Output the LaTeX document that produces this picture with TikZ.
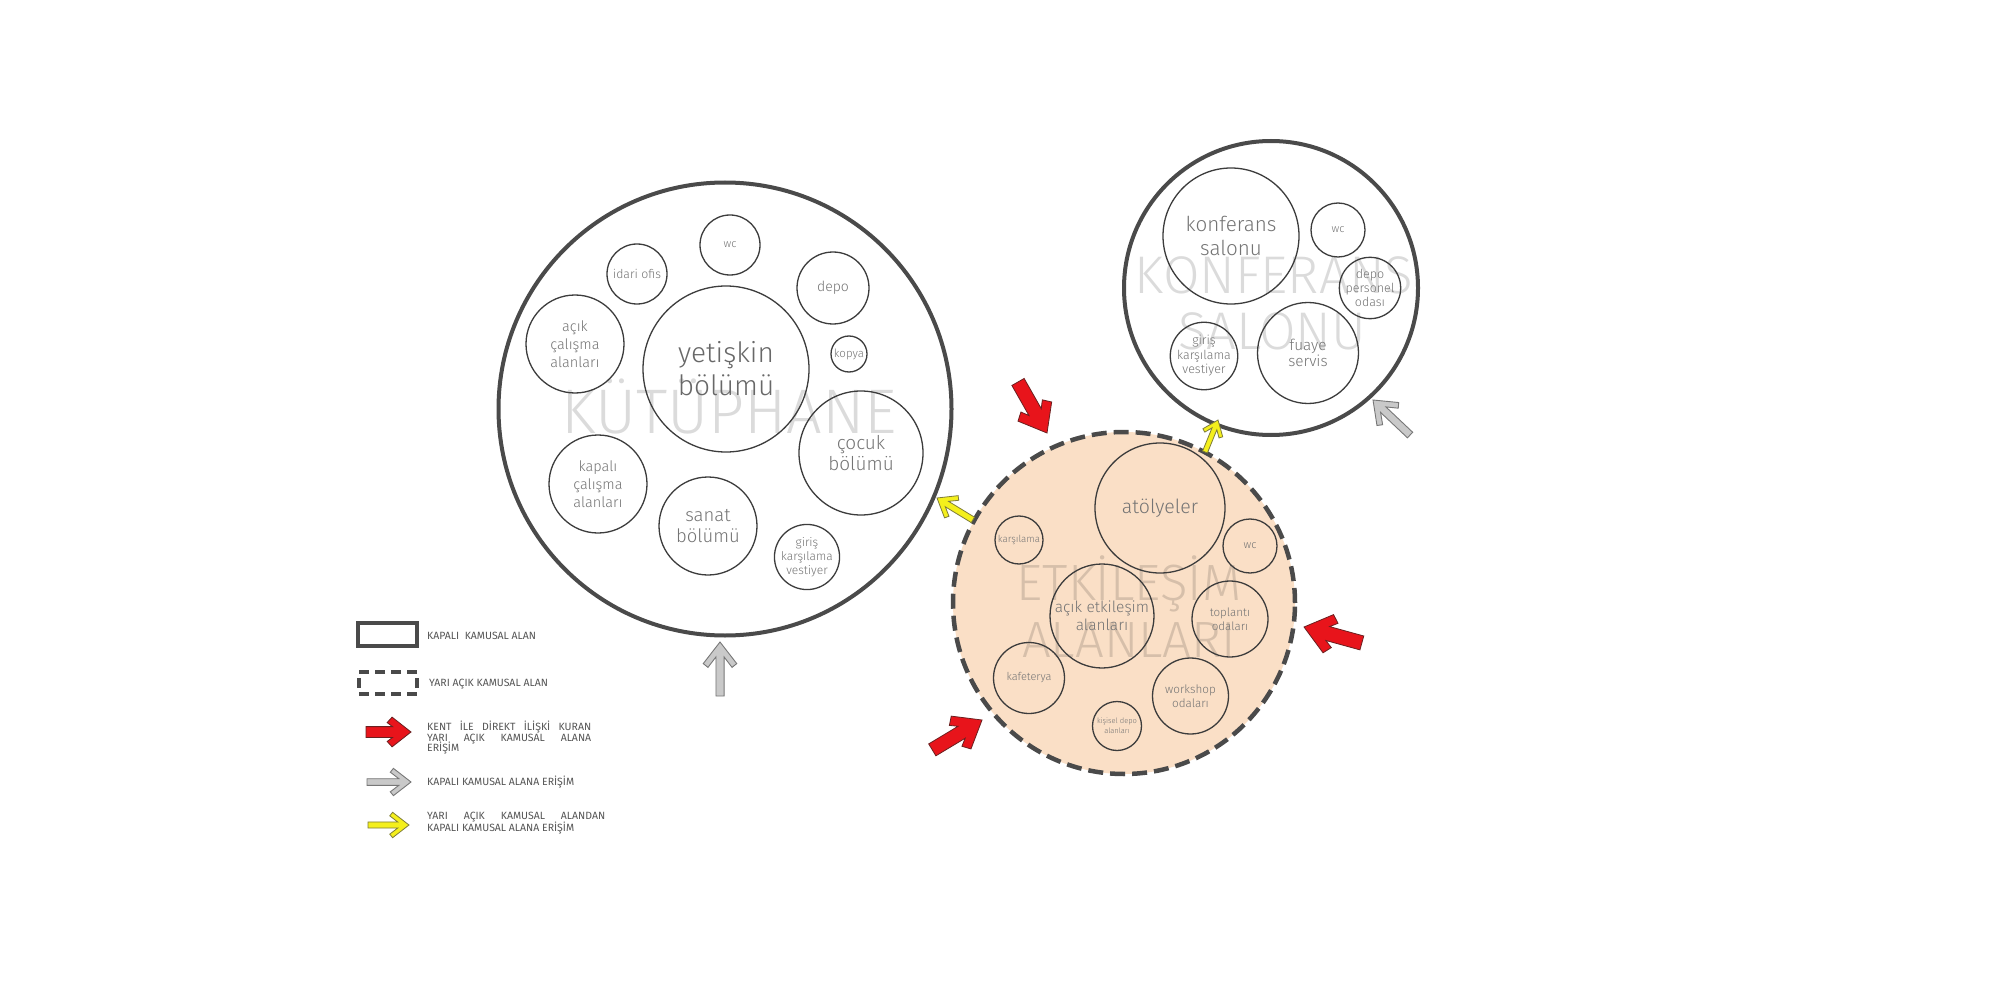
\documentclass[tikz,border=0pt]{standalone}
\usepackage{fontspec}
\IfFontExistsTF{Fira Sans Light}{\setmainfont{Fira Sans Light}\newfontfamily\wmfont{Fira Sans Light}}{\setmainfont{Fira Sans}\newfontfamily\wmfont{Fira Sans}}
\newfontfamily\legfont{Fira Sans}
\definecolor{ring}{HTML}{4A4A4A}
\definecolor{roomline}{HTML}{3C3C3C}
\definecolor{peach}{HTML}{FADFC6}
\definecolor{txt}{HTML}{747474}
\definecolor{legtxt}{HTML}{555555}
\definecolor{redA}{HTML}{E8141B}
\definecolor{redD}{HTML}{6A2020}
\definecolor{grayA}{HTML}{C9C9C9}
\definecolor{grayD}{HTML}{777777}
\definecolor{yelA}{HTML}{F4EF1C}
\definecolor{yelD}{HTML}{7F7D3A}
\newcommand\fs[2]{\fontsize{#1}{#2}\selectfont}
\tikzset{
  outerring/.style={circle, draw=ring, line width=4pt, inner sep=0pt},
  dashring/.style={circle, draw=ring, fill=peach, line width=4.5pt, dash pattern=on 15pt off 7pt, inner sep=0pt},
  room/.style={circle, draw=roomline, line width=1.3pt, inner sep=0pt, align=center, text=txt},
  wmark/.style={text=black, text opacity=0.14, inner sep=0pt, anchor=base},
  legtext/.style={text=legtxt, inner sep=0pt, anchor=base west, font=\legfont\fs{10.5}{10.5}},
  pics/heavyarrow/.style={code={
    \draw[pic actions, line join=miter] (0,0) -- (-0.42,0.33) -- (-0.53,0.21) -- (-0.41,0.12) -- (-1,0.12)
      -- (-1,-0.12) -- (-0.41,-0.12) -- (-0.53,-0.21) -- (-0.42,-0.33) -- cycle;}},
  pics/lightarrow/.style={code={
    \draw[pic actions, line join=miter] (0,0) -- (-0.40,0.31) -- (-0.47,0.223) -- (-0.276,0.075) -- (-1,0.075)
      -- (-1,-0.075) -- (-0.276,-0.075) -- (-0.47,-0.223) -- (-0.40,-0.31) -- cycle;}},
  redarr/.style={fill=redA, draw=redD, line width=0.8pt},
  grayarr/.style={fill=grayA, draw=grayD, line width=0.9pt},
  yelarr/.style={fill=yelA, draw=yelD, line width=0.8pt}
}
\begin{document}
\begin{tikzpicture}[x=1pt,y=-1pt]
\useasboundingbox[fill=white] (0,0) rectangle (2000,1000);

% ---------- outer areas ----------
\node[dashring, minimum size=342pt] (etk) at (1124,603) {};
\node[outerring, minimum size=453pt] (lib) at (725,409) {};
\node[outerring, minimum size=294pt] (konfO) at (1271,288) {};

% ---------- watermark titles ----------
\node[wmark, font=\wmfont\fs{63}{63}] (wmlib) at (729,433) {KÜTÜPHANE};
\node[wmark, font=\wmfont\fs{53}{53}] (wmkonf1) at (1274,294) {KONFERANS};
\node[wmark, font=\wmfont\fs{53}{53}] (wmkonf2) at (1272,349) {SALONU};
\node[wmark, font=\wmfont\fs{51}{51}] (wmetk1) at (1129,600) {ETKİLEŞİM};
\node[wmark, font=\wmfont\fs{51}{51}] (wmetk2) at (1129,657) {ALANLARI};

% ---------- library rooms ----------
\node[room, minimum size=60pt, font=\fs{11}{13}] (wc1) at (730,245) {wc};
\node[room, minimum size=60pt, font=\fs{12.3}{14}] (idari) at (637,274) {idari ofis};
\node[room, minimum size=72pt, font=\fs{14}{16}] (depo1) at (833,288) {depo};
\node[room, minimum size=36pt, font=\fs{11.5}{13}] (kopya) at (849,354) {kopya};
\node[room, minimum size=98pt, font=\fs{14.5}{18.3}] (acik) at (575,344) {açık\\çalışma\\alanları};
\node[room, minimum size=166pt, font=\fs{28}{33}, text=txt!90!black] (yet) at (726,369) {yetişkin\\bölümü};
\node[room, minimum size=124pt, font=\fs{19}{21.7}] (cocuk) at (861,453) {çocuk\\bölümü};
\node[room, minimum size=98pt, font=\fs{14.5}{18.3}] (kapali) at (598,484) {kapalı\\çalışma\\alanları};
\node[room, minimum size=98pt, font=\fs{18.5}{21.7}] (sanat) at (708,526) {sanat\\bölümü};
\node[room, minimum size=62pt, font=\fs{12}{14.2}] (giris1) at (807,557) {giriş\\karşılama\\vestiyer};

% ---------- conference rooms ----------
\node[room, minimum size=136pt, font=\fs{20.6}{24}] (konf) at (1231,236) {konferans\\salonu};
\node[room, minimum size=54pt, font=\fs{11}{13}] (wc2) at (1338,230) {wc};
\node[room, minimum size=61pt, font=\fs{12.5}{14}] (depop) at (1370,288) {depo\\personel\\odası};
\node[room, minimum size=62pt, font=\fs{12.5}{14.5}] (giris2) at (1204,356) {giriş\\karşılama\\vestiyer};
\node[room, minimum size=101pt, font=\fs{15.3}{16}] (fuaye) at (1308,353) {fuaye\\servis};

% ---------- interaction rooms ----------
\node[room, minimum size=130pt, font=\fs{19.5}{22}] (atol) at (1160,508) {atölyeler};
\node[room, minimum size=48pt, font=\fs{9.8}{11}] (kars) at (1019,540) {karşılama};
\node[room, minimum size=54pt, font=\fs{11}{13}] (wc3) at (1250,546) {wc};
\node[room, minimum size=104pt, font=\fs{15.5}{18.3}] (acket) at (1102,616) {açık etkileşim\\alanları};
\node[room, minimum size=76pt, font=\fs{11.6}{14.3}] (topl) at (1230,619) {toplantı\\odaları};
\node[room, minimum size=71pt, font=\fs{11}{13}] (kafe) at (1029,678) {kafeterya};
\node[room, minimum size=76pt, font=\fs{11.7}{14}] (work) at (1190.5,696) {workshop\\odaları};
\node[room, minimum size=49pt, font=\fs{7.5}{10}] (kisi) at (1117,726) {kişisel depo\\alanları};

% ---------- access arrows ----------
\pic[grayarr, rotate=90, scale=54] at (720,642) {lightarrow};
\pic[grayarr, rotate=136.6, scale=51] at (1373,400) {lightarrow};
\pic[redarr, rotate=-60.4, scale=58.7] at (1047,433) {heavyarrow};
\pic[redarr, rotate=164.6, scale=60] at (1304,627) {heavyarrow};
\pic[redarr, rotate=31, scale=58] at (982,720) {heavyarrow};
\pic[yelarr, rotate=148.6, scale=42] at (937,498) {lightarrow};
\pic[yelarr, rotate=67.9, scale=34.5] at (1218,420) {lightarrow};

% ---------- legend ----------
\node[draw=ring, line width=3.3pt, minimum width=59pt, minimum height=23pt, inner sep=0pt] (legsolid) at (387.5,634.5) {};
\node[legtext] (lt1) at (427,639.5) {KAPALI~ KAMUSAL ALAN};
\node[draw=ring, line width=3.3pt, dash pattern=on 10pt off 6pt, minimum width=58pt, minimum height=22pt, inner sep=0pt] (legdash) at (388,683) {};
\node[legtext] (lt2) at (429,686) {YARI AÇIK KAMUSAL ALAN};

\pic[redarr, scale=45] at (411,732) {heavyarrow};
\node[legtext] (lt3a) at (427,730) {\makebox[164pt][s]{KENT İLE DİREKT İLİŞKİ KURAN}};
\node[legtext] (lt3b) at (427,741) {\makebox[164pt][s]{YARI AÇIK KAMUSAL ALANA}};
\node[legtext] (lt3c) at (427,751.5) {ERİŞİM};

\pic[grayarr, scale=44] at (411,782) {lightarrow};
\node[legtext] (lt4) at (427,785.5) {KAPALI KAMUSAL ALANA ERİŞİM};

\pic[yelarr, scale=41] at (409,825) {lightarrow};
\node[legtext] (lt5a) at (427,819.5) {\makebox[178pt][s]{YARI AÇIK KAMUSAL ALANDAN}};
\node[legtext] (lt5b) at (427,831.5) {KAPALI KAMUSAL ALANA ERİŞİM};
\end{tikzpicture}
\end{document}
